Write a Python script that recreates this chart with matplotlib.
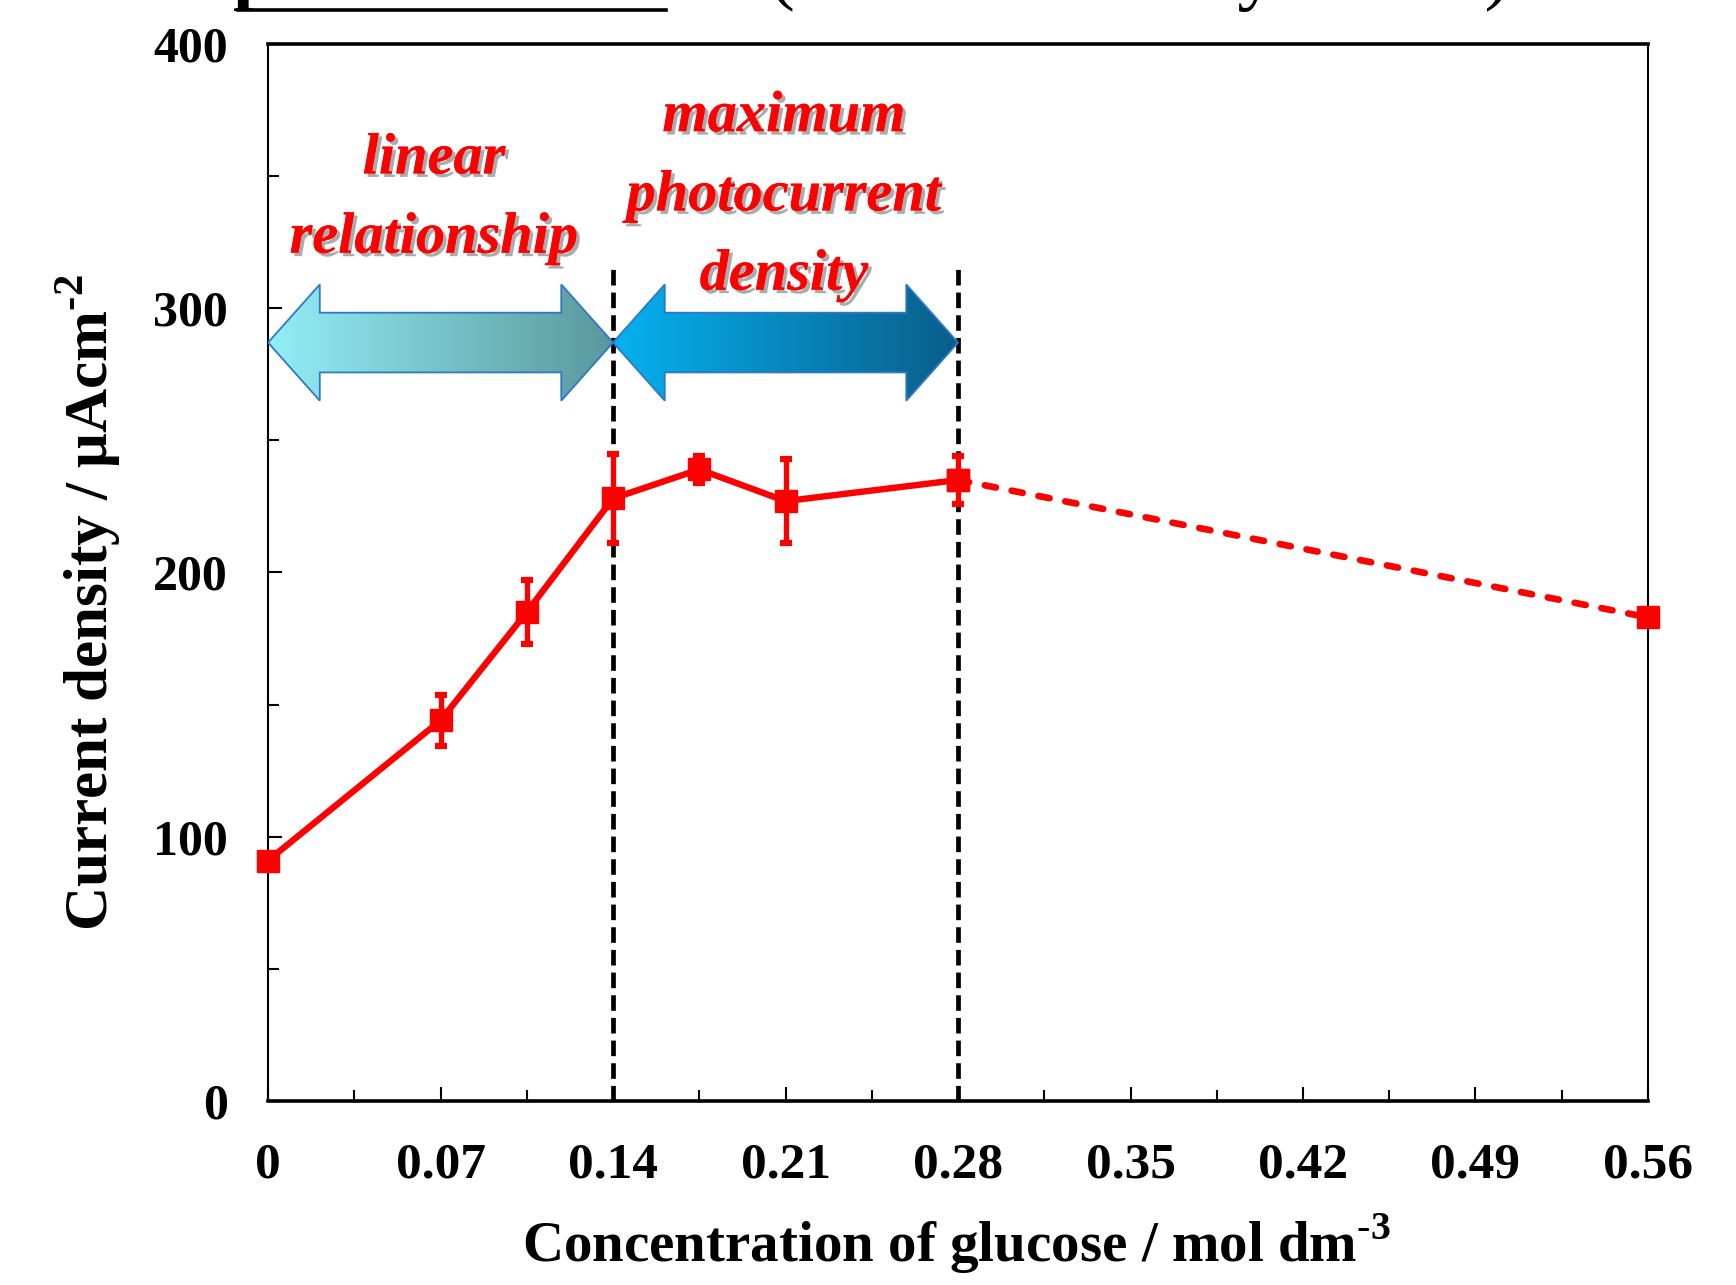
import numpy as np
import matplotlib
matplotlib.use("Agg")
import matplotlib.pyplot as plt
import matplotlib.patheffects as pe
from matplotlib.patches import Polygon
from matplotlib.lines import Line2D
from matplotlib.colors import LinearSegmentedColormap

# glucose concentration (mol dm-3) and photocurrent (uA cm-2)
conc = [0, 0.07, 0.105, 0.14, 0.175, 0.21, 0.28, 0.56]
current = [91, 144, 185, 228, 239, 227, 235, 183]
err = [0, 9.5, 12, 17, 5, 16, 9, 0]
n_solid = 7  # points joined by the solid line, the rest dashed

# regions marked by the double arrows
region_bounds = [0, 0.14, 0.28]
region_top = 315
arrow_y = 287
region_colors = [("#93EEF6", "#5A989C"), ("#06B2F0", "#0A5D8A")]
region_text = [["linear", "relationship"], ["maximum", "photocurrent", "density"]]
region_text_x = [0.0674, 0.2094]
region_text_y = [[351, 321], [367, 337, 307]]

xticks = [0, 0.07, 0.14, 0.21, 0.28, 0.35, 0.42, 0.49, 0.56]
xtick_labels = ["0", "0.07", "0.14", "0.21", "0.28", "0.35", "0.42", "0.49", "0.56"]
yticks = [0, 100, 200, 300, 400]

plt.rcParams["font.family"] = ["Liberation Serif", "DejaVu Serif"]
plt.rcParams["font.weight"] = "bold"
plt.rcParams["axes.labelweight"] = "bold"
plt.rcParams["mathtext.fontset"] = "custom"
plt.rcParams["mathtext.rm"] = "Liberation Serif:bold"
plt.rcParams["mathtext.bf"] = "Liberation Serif:bold"


def double_arrow(x0, x1, yc, head=0.021, head_half=22, shaft_half=11.3):
    return [(x0, yc), (x0 + head, yc + head_half), (x0 + head, yc + shaft_half),
            (x1 - head, yc + shaft_half), (x1 - head, yc + head_half), (x1, yc),
            (x1 - head, yc - head_half), (x1 - head, yc - shaft_half),
            (x0 + head, yc - shaft_half), (x0 + head, yc - head_half)]


def main():
    fig = plt.figure(figsize=(17.36, 12.85), dpi=100)
    ax = fig.add_axes([0.1544, 0.1432, 0.7949, 0.8226])

    # region boundaries
    ax.vlines(region_bounds[1:], 0, region_top, colors="black",
              linestyles=(0, (3.3, 1.5)), linewidth=3.4, zorder=2)

    # gradient double arrows
    for i in range(2):
        x0, x1 = region_bounds[i], region_bounds[i + 1]
        poly = Polygon(double_arrow(x0, x1, arrow_y), closed=True,
                       facecolor="none", edgecolor="#2F78C4", linewidth=1.3, zorder=3)
        ax.add_patch(poly)
        cmap = LinearSegmentedColormap.from_list("g%d" % i, region_colors[i])
        grad = np.linspace(0, 1, 256).reshape(1, -1)
        im = ax.imshow(grad, cmap=cmap, aspect="auto", origin="lower",
                       extent=[x0, x1, arrow_y - 25, arrow_y + 25], zorder=2.5)
        im.set_clip_path(poly)

    shadow = [pe.withSimplePatchShadow(offset=(2.5, -2.5), shadow_rgbFace="0.45", alpha=0.6),
              pe.Normal()]
    for i in range(2):
        for line, yy in zip(region_text[i], region_text_y[i]):
            ax.text(region_text_x[i], yy, line, color="#FF0000", fontsize=42,
                    fontstyle="italic", fontweight="bold", ha="center", va="baseline",
                    path_effects=shadow, zorder=5)

    # data
    ax.errorbar(conc[:n_solid], current[:n_solid], yerr=err[:n_solid], color="#FF0000",
                linewidth=4.6, marker="s", markersize=16, elinewidth=3.8, capsize=4.2,
                capthick=4.5, zorder=6, clip_on=False)
    ax.plot(conc[n_solid - 1:], current[n_solid - 1:], color="#FF0000", linewidth=4.8,
            linestyle=(0, (1.7, 2.4)), dash_capstyle="round", marker="s",
            markersize=16, zorder=6, clip_on=False)

    ax.set_xlim(0, 0.56)
    ax.set_ylim(0, 400)
    ax.set_xticks(xticks)
    ax.set_xticklabels(xtick_labels)
    ax.set_xticks(np.arange(0.035, 0.56, 0.07), minor=True)
    ax.set_yticks(yticks)
    ax.set_yticks([50, 150, 250, 350], minor=True)
    ax.tick_params(which="both", direction="in", width=1.5)
    ax.tick_params(which="major", length=10)
    ax.tick_params(which="minor", length=8)
    ax.tick_params(axis="x", labelsize=37, pad=30)
    ax.tick_params(axis="y", labelsize=36, pad=29)

    ax.spines["top"].set_linewidth(2.6)
    ax.spines["bottom"].set_linewidth(2.6)
    ax.spines["left"].set_linewidth(1.5)
    ax.spines["right"].set_linewidth(1.5)

    ax.set_xlabel(r"Concentration of glucose / mol dm$^{\text{-3}}$", fontsize=41,
                  fontweight="bold")
    ax.xaxis.set_label_coords(0.499, -0.105)
    ax.set_ylabel("Current density / \u03bcAcm$^{\\text{-2}}$", fontsize=44,
                  fontweight="bold")
    ax.yaxis.set_label_coords(-0.105, 0.471)

    # cut-off slide title above the chart
    fig.text(233 / 1736, 1 + 5 / 1285, "photocurrent", fontsize=55, ha="left",
             va="baseline")
    fig.add_artist(Line2D([238 / 1736, 666 / 1736], [1 - 10 / 1285, 1 - 10 / 1285],
                          color="black", linewidth=2.6))
    fig.text(769 / 1736, 1 + 5 / 1285, "(Current density at 1 V)", fontsize=56,
             fontweight="normal", ha="left", va="baseline")

    fig.savefig("out.png", dpi=100)


if __name__ == "__main__":
    main()
